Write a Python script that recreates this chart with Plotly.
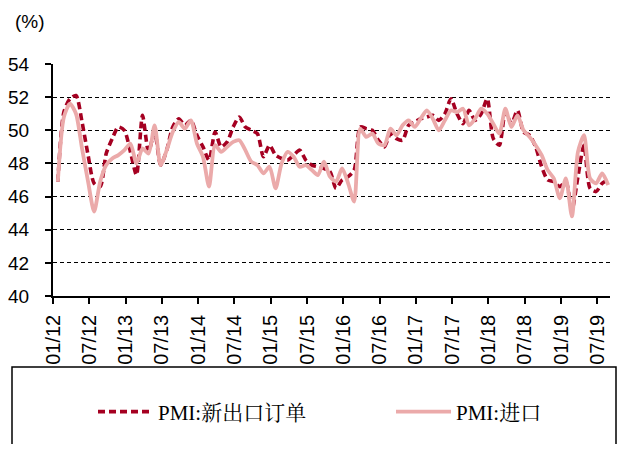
import plotly.graph_objects as go

months = [f"{m:02d}/{y:02d}" for y in range(12, 20) for m in range(1, 13)][:92]

export_orders = [
    46.9, 51.1, 51.9, 52.1, 50.5, 48.5, 46.8, 46.6, 48.6, 49.5, 50.2, 50.0,
    48.7, 47.3, 50.9, 48.7, 49.9, 47.9, 48.8, 50.2, 50.7, 50.3, 50.6, 49.7,
    49.0, 48.2, 49.9, 49.0, 49.3, 50.2, 50.8, 50.2, 50.0, 49.8, 48.4, 49.1,
    48.5, 48.3, 48.2, 48.5, 48.8, 48.2, 47.9, 47.8, 47.7, 47.5, 46.5, 47.0,
    47.2, 47.6, 50.2, 50.1, 50.0, 49.4, 49.0, 49.8, 49.5, 49.4, 50.3, 50.5,
    50.7, 50.8, 50.9, 50.6, 51.0, 51.9, 51.0, 50.4, 51.2, 50.6, 51.0, 51.9,
    49.5, 49.1, 51.1, 50.4, 51.2, 49.9, 49.7, 49.0, 47.8, 47.0, 46.9, 46.6,
    46.9, 45.2, 47.2, 49.1, 46.5, 46.3, 46.8, 47.0,
]

imports = [
    46.9, 50.8, 51.6, 51.0, 48.9, 46.9, 45.1, 46.9, 47.9, 48.3, 48.5, 48.8,
    49.2, 48.0, 48.9, 48.6, 50.3, 47.9, 48.8, 49.9, 50.5, 50.1, 50.6, 49.2,
    48.4, 46.6, 49.1, 48.7, 49.0, 49.3, 49.4, 48.8, 48.1, 47.9, 47.4, 47.8,
    46.5, 48.0, 48.7, 48.4, 47.8, 47.9, 47.6, 47.3, 48.1, 47.2, 46.9, 47.7,
    46.8, 45.7, 50.1, 49.6, 49.8, 49.2, 49.1, 50.1, 49.7, 50.3, 50.6, 50.2,
    50.7, 51.2, 50.7, 50.0, 50.6, 51.2, 51.1, 51.3, 50.3, 50.7, 51.3, 51.0,
    50.4, 49.8, 51.3, 50.2, 50.9, 50.0, 49.6, 49.1, 48.5, 47.6, 47.1, 45.9,
    47.1, 44.8, 48.7, 49.7, 47.1, 46.8, 47.4, 46.7,
]

tick_labels = months[::6]
y_ticks = [40, 42, 44, 46, 48, 50, 52, 54]

x_idx = list(range(len(months)))
tick_pos = [i - 0.8 for i in x_idx[::6]]

names = ["PMI:新出口订单", "PMI:进口"]

fig = go.Figure()
fig.add_trace(go.Scatter(
    x=x_idx, y=export_orders, name=names[0], mode="lines", legend="legend",
    line=dict(color="#A50021", width=3.6, dash="7px,4px", shape="spline", smoothing=0.7),
))
fig.add_trace(go.Scatter(
    x=x_idx, y=imports, name=names[1], mode="lines", legend="legend2",
    line=dict(color="#EBAAAA", width=3.8, shape="spline", smoothing=0.7),
))

# page has an 8px body margin; target positions are in window pixels
OFF = 8
W, H = 618, 436
PL, PR, PT, PB = 53, 610, 64, 296          # plot area in window pixels
L, T = PL - OFF, PT - OFF
R = W - (PR - OFF)
B = H - (PB - OFF)
pw, ph = PR - PL, PB - PT

def px_x(p):
    return (p - PL) / pw

def px_y(p):
    return (PB - p) / ph

bx0, bx1, by_top, by_bot = px_x(12), px_x(616), px_y(367), px_y(460)
fig.add_shape(type="path", xref="paper", yref="paper",
              path=f"M {bx0},{by_bot} L {bx0},{by_top} L {bx1},{by_top} L {bx1},{by_bot}",
              line=dict(color="black", width=1.5))

fig.add_annotation(text="(%)", xref="paper", yref="paper",
                   x=px_x(30), y=px_y(22), showarrow=False,
                   font=dict(size=19, color="black", family="Liberation Sans, Arial"),
                   xanchor="center", yanchor="middle")

legend_font = dict(size=21, family="Liberation Serif, Noto Serif CJK SC, Noto Sans CJK SC", color="black")
legend_common = dict(orientation="h", yanchor="middle", xanchor="left", font=legend_font,
                     itemwidth=55, bgcolor="rgba(0,0,0,0)", borderwidth=0)

fig.update_layout(
    width=W, height=H,
    margin=dict(l=L, r=R, t=T, b=B, autoexpand=False),
    paper_bgcolor="white", plot_bgcolor="white",
    font=dict(family="Liberation Sans, Arial, sans-serif", color="black"),
    showlegend=True,
    legend=dict(x=px_x(93), y=px_y(412), **legend_common),
    legend2=dict(x=px_x(391), y=px_y(412), **legend_common),
    xaxis=dict(
        range=[-0.8, 91.3], tickmode="array", tickvals=tick_pos, ticktext=tick_labels,
        tickangle=-90, ticks="outside", ticklen=6, tickwidth=1.5, tickcolor="black",
        showline=True, linecolor="black", linewidth=1.5, showgrid=False, zeroline=False,
        tickfont=dict(size=20, color="black"), ticklabelstandoff=3,
    ),
    yaxis=dict(
        range=[40, 54], tickmode="array", tickvals=y_ticks,
        ticks="outside", ticklen=6, tickwidth=1.5, tickcolor="black",
        showline=True, linecolor="black", linewidth=2,
        showgrid=True, gridcolor="black", gridwidth=1.2, griddash="4px,3px",
        zeroline=False, tickfont=dict(size=19, color="black"), ticklabelstandoff=12,
    ),
)

fig.write_html("out.html")
